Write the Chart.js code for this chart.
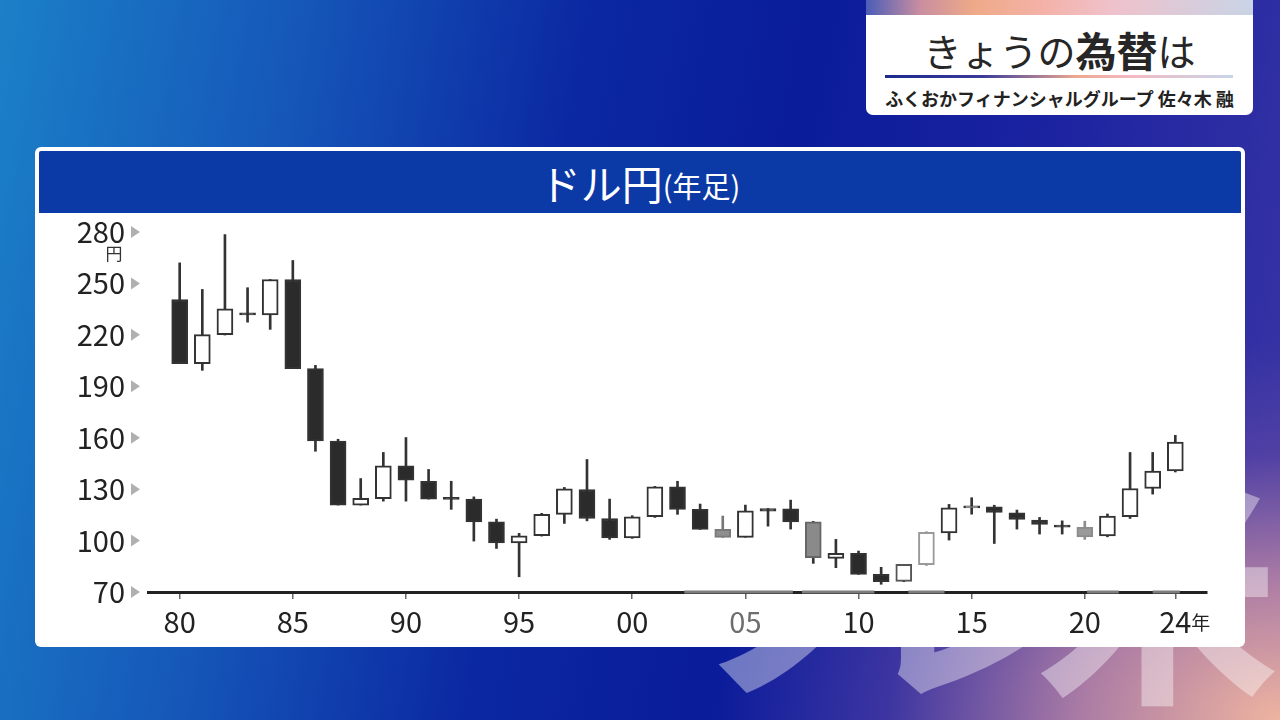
<!DOCTYPE html>
<html lang="ja">
<head>
<meta charset="utf-8">
<title>ドル円(年足)</title>
<script src="https://cdn.jsdelivr.net/npm/chart.js@4.4.1/dist/chart.umd.min.js"></script>
<style>
  html, body { margin: 0; padding: 0; }
  body {
    width: 1280px; height: 720px; overflow: hidden; position: relative;
    font-family: "Noto Sans CJK JP", "Noto Sans", sans-serif;
    background:
      radial-gradient(ellipse 560px 380px at 100% 100%, rgba(238,180,160,1) 0%, rgba(205,145,165,0.8) 35%, rgba(130,90,165,0.35) 70%, rgba(60,50,160,0) 100%),
      linear-gradient(100deg, #1b80c8 0%, #1556b8 22%, #0b28a2 42%, #0a1c9a 58%, #1a22a0 75%, #3a35a5 100%);
  }
  .mark { position: absolute; top: 455px; font-size: 245px; line-height: 245px; font-weight: 700; color: rgba(255,255,255,0.40); }
  .card {
    position: absolute; left: 866px; top: -6px; width: 387px; height: 121px;
    background: #fff; border-radius: 7px; overflow: hidden;
  }
  .card .strip {
    position: absolute; left: 0; top: 0; right: 0; height: 21px;
    background: linear-gradient(90deg, #4a5db8 0%, #c98ea0 14%, #eeaa88 28%, #f4b2a8 46%, #efc2cc 64%, #c8d4e6 100%);
  }
  .card .ttl {
    position: absolute; left: 0; right: 0; top: 29px; height: 52px;
    display: flex; justify-content: center; align-items: center; color: #262626;
  }
  .card .ttl span { font-size: 38px; font-weight: 400; }
  .card .ttl b { font-size: 41px; font-weight: 700; }
  .card .rule {
    position: absolute; left: 19px; width: 348px; top: 81px; height: 3px;
    background: linear-gradient(90deg, #1a2a8c 0%, #3a3a9a 28%, #eea890 55%, #f4b8c0 70%, #c8d4e8 100%);
  }
  .card .sub {
    position: absolute; left: 0; right: 0; top: 92px; height: 24px; line-height: 24px;
    text-align: center; font-size: 18px; font-weight: 700; color: #222;
  }
  .panel {
    position: absolute; left: 35px; top: 147px; width: 1210px; height: 500px;
    background: #fff; border-radius: 6px;
  }
  .panel .band {
    position: absolute; left: 4px; top: 4px; right: 4px; height: 62px;
    background: #0b3aa6; border-radius: 2px 2px 0 0;
    display: flex; justify-content: center; align-items: center; color: #fff;
  }
  .panel .band .big { font-size: 41px; font-weight: 400; }
  .panel .band .small { font-size: 29px; font-weight: 400; margin-top: 6px; }
  .panel canvas { position: absolute; left: 4px; top: 66px; }
</style>
</head>
<body>
<div class="mark" style="left:692px;">ノ</div>
<div class="mark" style="left:850px;">レ</div>
<div class="mark" style="left:1035px;">米</div>

<div class="card">
  <div class="strip"></div>
  <div class="ttl"><span>きょうの</span><b>為替</b><span>は</span></div>
  <div class="rule"></div>
  <div class="sub">ふくおかフィナンシャルグループ 佐々木 融</div>
</div>

<div class="panel">
  <div class="band"><span class="big">ドル円</span><span class="small">(年足)</span></div>
  <canvas id="chart" width="1202" height="431"></canvas>
</div>

<script>
// Yearly USD/JPY candles, 1980-2024
const years = [1980,1981,1982,1983,1984,1985,1986,1987,1988,1989,
               1990,1991,1992,1993,1994,1995,1996,1997,1998,1999,
               2000,2001,2002,2003,2004,2005,2006,2007,2008,2009,
               2010,2011,2012,2013,2014,2015,2016,2017,2018,2019,
               2020,2021,2022,2023,2024];
const openV  = [240.6,203.2,220.1,232.9,231.7,252.3,200.3,158.1,120.7,124.4,
                143.6,134.6,125.2,124.2,110.9, 98.7,102.8,115.3,129.8,112.9,
                101.6,113.9,131.3,118.2,106.5,101.9,118.7,118.5,110.9, 89.6,
                 92.5, 80.3, 76.2, 86.0,104.5,119.0,119.7,116.2,111.9,109.0,
                107.7,102.7,114.0,130.4,140.6];
const highV  = [262.0,246.5,278.5,247.5,252.3,263.4,202.2,159.1,136.2,151.4,
                160.1,141.5,134.6,125.5,112.5,104.2,115.9,131.0,147.3,124.2,
                114.5,131.6,134.6,121.3,114.3,120.7,118.7,123.6,111.2,100.7,
                 93.9, 84.4, 86.1,105.0,121.1,125.0,120.6,117.8,113.5,111.5,
                111.3,115.5,151.4,151.4,161.4];
const lowV   = [203.2,199.3,219.9,227.4,223.2,200.3,152.1,120.7,120.7,123.0,
                123.0,124.2,118.2, 99.7, 95.4, 78.9,102.6,110.0,111.5,100.7,
                101.3,113.5,115.3,106.5,101.9,101.9,108.4,106.7, 86.7, 84.2,
                 80.3, 74.5, 76.0, 85.7,100.3,115.4, 98.3,106.7,103.8,103.8,
                100.7,102.2,112.9,127.1,140.0];
const closeV = [203.2,220.1,235.2,231.6,252.3,200.3,158.1,120.7,124.6,143.6,
                135.2,124.2,124.0,110.9, 98.7,102.8,115.3,130.2,112.9,101.6,
                113.9,131.3,118.2,106.5,101.9,117.4,117.2,110.9, 90.0, 92.5,
                 80.3, 76.0, 86.1,104.8,119.1,120.2,116.4,112.3,109.4,107.8,
                102.2,114.3,130.4,140.6,157.5];

const yTicks = [70,100,130,160,190,220,250,280];
const xTickYears  = [1980,1985,1990,1995,2000,2005,2010,2015,2020,2024];
const xTickLabels = ['80','85','90','95','00','05','10','15','20','24'];

// Candles shown in a lighter tone
const softFill = { 2004: '#8f8f8f', 2008: '#8a8a8a', 2020: '#9a9a9a' };
const softEdge = { 2004: '#7a7a7a', 2008: '#666666', 2012: '#555555', 2013: '#9a9a9a', 2020: '#8c8c8c' };
const softWick = { 2004: '#777777', 2020: '#8c8c8c' };
// Stretches of the baseline drawn in grey (in years)
const greyBaseline = [[2002.3, 2007.1], [2007.5, 2010.7], [2012.2, 2013.8], [2020.1, 2021.5], [2023.0, 2024.2]];

const DARK = '#2b2b2b';
const FONT = '"Noto Sans CJK JP", "Noto Sans", sans-serif';

const bodies = years.map((y, i) => ({ x: y, y: [openV[i], closeV[i]] }));
const wicks  = years.map((y, i) => ({ x: y, y: [lowV[i], highV[i]] }));

const isDown = i => openV[i] > closeV[i];

const decor = {
  id: 'decor',
  afterDraw(chart) {
    const { ctx, scales: { x, y } } = chart;
    ctx.save();
    // grey stretches of the baseline
    const by = x.top;
    ctx.strokeStyle = '#7c7c7c';
    ctx.lineWidth = 3;
    greyBaseline.forEach(([a, b]) => {
      ctx.beginPath();
      ctx.moveTo(x.getPixelForValue(a), by);
      ctx.lineTo(x.getPixelForValue(b), by);
      ctx.stroke();
    });
    // small triangles beside the price labels
    ctx.fillStyle = '#b0b0b0';
    const tx = y.right - 17;
    yTicks.forEach(v => {
      const py = y.getPixelForValue(v);
      ctx.beginPath();
      ctx.moveTo(tx, py - 6);
      ctx.lineTo(tx + 9, py);
      ctx.lineTo(tx, py + 6);
      ctx.closePath();
      ctx.fill();
    });
    // unit marks
    ctx.fillStyle = '#333';
    ctx.font = '17px ' + FONT;
    ctx.textAlign = 'center';
    ctx.textBaseline = 'middle';
    ctx.fillText('円', y.right - 34, y.getPixelForValue(280) + 22);
    ctx.fillStyle = '#222';
    ctx.font = '19px ' + FONT;
    ctx.textAlign = 'left';
    ctx.fillText('年', x.getPixelForValue(2024) + 16, x.top + 31);
    ctx.restore();
  }
};

new Chart(document.getElementById('chart'), {
  type: 'bar',
  data: {
    datasets: [
      {
        data: bodies,
        order: 0,
        grouped: false,
        barThickness: 16,
        borderWidth: 2,
        borderSkipped: false,
        backgroundColor: c => {
          const yr = years[c.dataIndex];
          if (softFill[yr]) return softFill[yr];
          return isDown(c.dataIndex) ? DARK : '#ffffff';
        },
        borderColor: c => softEdge[years[c.dataIndex]] || '#333333'
      },
      {
        data: wicks,
        order: 1,
        grouped: false,
        barThickness: 2,
        borderWidth: 0,
        backgroundColor: c => softWick[years[c.dataIndex]] || '#333333'
      }
    ]
  },
  options: {
    responsive: false,
    animation: false,
    layout: { padding: { top: 19, right: 34, left: 0, bottom: 0 } },
    plugins: { legend: { display: false }, tooltip: { enabled: false } },
    scales: {
      x: {
        type: 'linear',
        position: 'bottom',
        min: 1978.6,
        max: 2025.4,
        offset: false,
        afterBuildTicks: s => { s.ticks = xTickYears.map(v => ({ value: v })); },
        afterFit: s => { s.height = 52; s.paddingLeft = 0; s.paddingRight = 0; },
        grid: { display: true, offset: false, drawOnChartArea: false, drawTicks: true, tickLength: 7, color: '#666', lineWidth: 1.5 },
        border: { display: true, color: '#222', width: 3 },
        ticks: {
          autoSkip: false, maxRotation: 0, padding: 6,
          font: { family: FONT, size: 29 },
          color: c => (c.tick && c.tick.value === 2005) ? '#6e6e6e' : '#222',
          callback: v => xTickLabels[xTickYears.indexOf(v)]
        }
      },
      y: {
        type: 'linear',
        min: 70,
        max: 280,
        beginAtZero: false,
        afterBuildTicks: s => { s.ticks = yTicks.map(v => ({ value: v })); },
        afterFit: s => { s.width = 109; s.paddingTop = 0; s.paddingBottom = 0; },
        grid: { display: false, drawTicks: false },
        border: { display: false },
        ticks: { padding: 23, font: { family: FONT, size: 29 }, color: '#222' }
      }
    }
  },
  plugins: [decor]
});
</script>
</body>
</html>
